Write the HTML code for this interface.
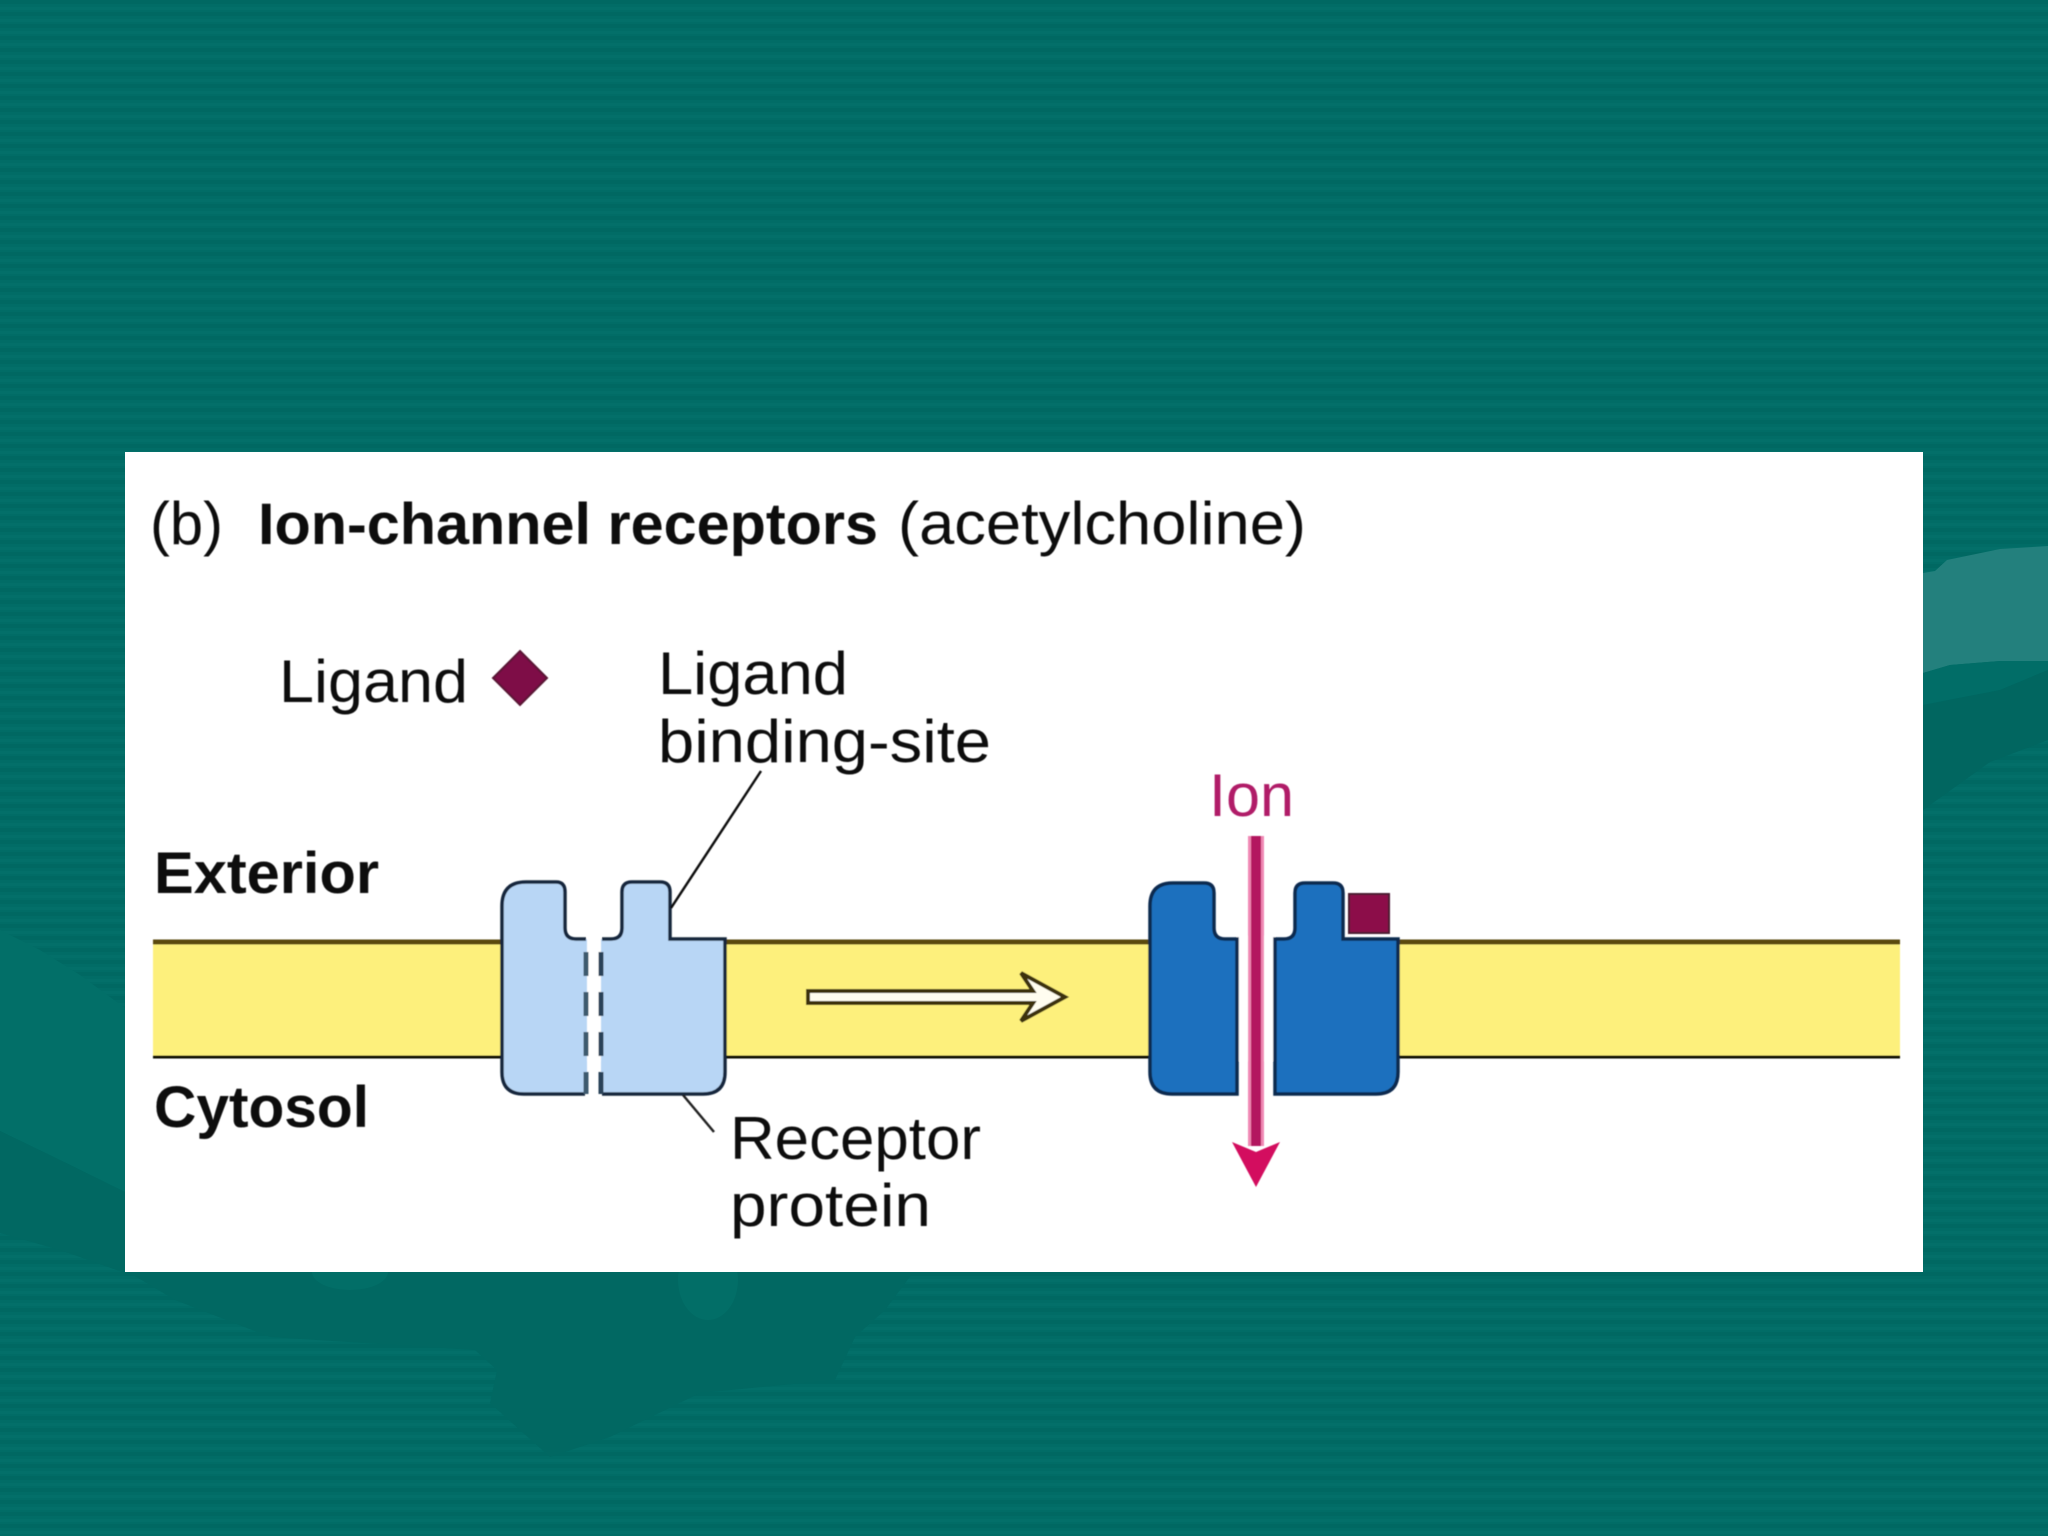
<!DOCTYPE html>
<html><head><meta charset="utf-8"><style>
html,body{margin:0;padding:0;background:#006c66}
svg{display:block}
text{font-family:"Liberation Sans",sans-serif;fill:#111}
.r{font-size:60px}
.b{font-size:58px;font-weight:700;fill:#0a0a0a}
</style></head><body>
<svg width="2048" height="1536" viewBox="0 0 2048 1536" xmlns="http://www.w3.org/2000/svg">
<defs>
<pattern id="st" width="2048" height="12" patternUnits="userSpaceOnUse">
<rect width="2048" height="12" fill="#016c66"/>
<rect y="0" width="2048" height="4" fill="#006862"/>
<rect y="7" width="2048" height="3" fill="#036f69"/>
</pattern>
<filter id="soft" x="-2%" y="-2%" width="104%" height="104%"><feGaussianBlur stdDeviation="0.6"/></filter>
</defs>
<rect width="2048" height="1536" fill="url(#st)"/>
<!-- swirl shapes -->
<polygon points="0,930 40,950 80,975 125,1008 125,1192 60,1160 0,1131" fill="#026f68"/>
<polygon points="0,1131 60,1160 125,1192 125,1273 60,1250 0,1233" fill="#016862"/>
<polygon points="125,1270 915,1270 885,1310 855,1337 835,1380 700,1393 610,1437 550,1457 490,1403 497,1370 475,1350 270,1337 175,1300" fill="#016862"/>
<ellipse cx="350" cy="1272" rx="38" ry="18" fill="#026e67"/>
<ellipse cx="708" cy="1280" rx="30" ry="40" fill="#026e67"/>
<polygon points="1923,573 1935,571 1947,560 2000,549 2048,546 2048,661 2000,661 1950,665 1923,673" fill="#23807d"/>
<polygon points="1923,673 1950,665 2000,661 2048,661 2048,670 2000,690 1923,705" fill="#016d67"/>
<polygon points="1923,705 2000,690 2048,670 2048,740 1990,762 1923,810" fill="#016660"/>
<!-- panel -->
<rect x="125" y="452" width="1798" height="820" fill="#fff"/>
<g filter="url(#soft)">
<!-- membrane -->
<rect x="153" y="942" width="1747" height="115" fill="#fdf07c"/>
<rect x="153" y="939.5" width="1747" height="5" fill="#5a4a10"/>
<rect x="153" y="1055.5" width="1747" height="3" fill="#0c0c06"/>
<!-- channel gaps -->
<rect x="1237" y="936" width="38" height="125" fill="#fff"/>
<rect x="587" y="936" width="14" height="125" fill="#fff"/>
<!-- light receptor -->
<path d="M586,1094 H524 Q502,1094 502,1072 V906 Q502,882 526,882 H556 Q565,882 565,892 V928 Q565,939 576,939 H587 V1094 Z" fill="#b8d6f5"/>
<path d="M601,1094 H703 Q725,1094 725,1072 V939 H670 V892 Q670,882 660,882 H632 Q622,882 622,892 V928 Q622,939 611,939 H601 Z" fill="#b8d6f5"/>
<path d="M585,1094 H524 Q502,1094 502,1072 V906 Q502,882 526,882 H556 Q565,882 565,892 V928 Q565,939 576,939 H586" fill="none" stroke="#14283c" stroke-width="3.5"/>
<path d="M602,939 H611 Q622,939 622,928 V892 Q622,882 632,882 H660 Q670,882 670,892 V939 H725 V1072 Q725,1094 703,1094 H602" fill="none" stroke="#14283c" stroke-width="3.5"/>
<line x1="586" y1="952" x2="586" y2="1094" stroke="#3e5a6e" stroke-width="5" stroke-dasharray="24 16"/>
<line x1="601" y1="952" x2="601" y2="1094" stroke="#2a4258" stroke-width="5" stroke-dasharray="24 16"/>
<!-- open arrow -->
<path d="M808,991 H1033 L1021,973 L1065,997 L1021,1021 L1033,1003 H808 Z" fill="#fffdf0" stroke="#3c3208" stroke-width="4" stroke-linejoin="miter"/>
<!-- dark receptor -->
<path d="M1237,1094 H1172 Q1150,1094 1150,1072 V906 Q1150,883 1173,883 H1204 Q1214,883 1214,893 V928 Q1214,939 1225,939 H1237 Z" fill="#1b6fbe" stroke="#0c2c50" stroke-width="3.5"/>
<path d="M1275,1094 H1376 Q1398,1094 1398,1072 V939 H1343 V893 Q1343,883 1333,883 H1305 Q1295,883 1295,893 V928 Q1295,939 1284,939 H1275 Z" fill="#1b6fbe" stroke="#0c2c50" stroke-width="3.5"/>
<!-- ligand square -->
<rect x="1349" y="894" width="40" height="39" fill="#8c0a48" stroke="#4a1a30" stroke-width="2"/>
<!-- ion arrow -->
<rect x="1248" y="836" width="16" height="310" fill="#f088b4"/>
<rect x="1251" y="836" width="10" height="310" fill="#b3125f"/>
<polygon points="1232,1142 1256,1152 1280,1142 1256,1187" fill="#d3105f"/>
<!-- diamond -->
<polygon points="520,651 547,678 520,705 493,678" fill="#7e0a46" stroke="#5a1636" stroke-width="2"/>
<!-- leaders -->
<line x1="761" y1="771" x2="671" y2="908" stroke="#111" stroke-width="2.5"/>
<line x1="683" y1="1095" x2="714" y2="1132" stroke="#222" stroke-width="2.5"/>
<!-- text -->
<text class="r" x="150" y="544" textLength="73" lengthAdjust="spacingAndGlyphs">(b)</text>
<text class="b" x="258" y="544" textLength="620" lengthAdjust="spacingAndGlyphs">Ion-channel receptors</text>
<text class="r" x="898" y="544" textLength="408" lengthAdjust="spacingAndGlyphs">(acetylcholine)</text>
<text class="r" x="279" y="702" textLength="189" lengthAdjust="spacingAndGlyphs">Ligand</text>
<text class="r" x="658" y="694" textLength="190" lengthAdjust="spacingAndGlyphs">Ligand</text>
<text class="r" x="658" y="762" textLength="333" lengthAdjust="spacingAndGlyphs">binding-site</text>
<text class="b" x="154" y="893" textLength="225" lengthAdjust="spacingAndGlyphs">Exterior</text>
<text class="b" x="154" y="1127" textLength="215" lengthAdjust="spacingAndGlyphs">Cytosol</text>
<text class="r" x="730" y="1159" textLength="251" lengthAdjust="spacingAndGlyphs">Receptor</text>
<text class="r" x="730" y="1226" textLength="201" lengthAdjust="spacingAndGlyphs">protein</text>
<text class="r" x="1209" y="816" textLength="85" lengthAdjust="spacingAndGlyphs" style="fill:#b01a68">Ion</text>
</g>
</svg>
</body></html>
